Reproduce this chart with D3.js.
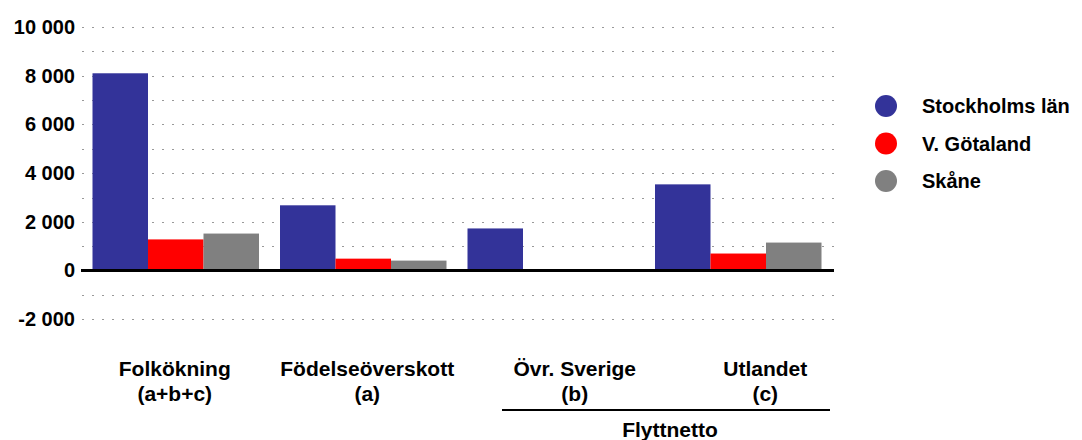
<!DOCTYPE html>
<html><head><meta charset="utf-8">
<script src="https://cdn.jsdelivr.net/npm/d3@7"></script>
<style>
body{margin:0;background:#fff;}
text{font-family:"Liberation Sans",Arial,sans-serif;font-weight:bold;fill:#000;}
</style></head>
<body><svg id="c" width="1082" height="440"></svg>
<script>
const categories = ["Folkökning","Födelseöverskott","Övr. Sverige","Utlandet"];
const categorySub = ["(a+b+c)","(a)","(b)","(c)"];
const seriesNames = ["Stockholms län","V. Götaland","Skåne"];
const seriesColors = ["#333399","#ff0000","#808080"];
const stockholm = [8100, 2680, 1730, 3540];
const vgotaland = [1280, 490, 0, 700];
const skane = [1520, 410, 0, 1150];
const tickValues = [-2000, 0, 2000, 4000, 6000, 8000, 10000];
const gridValues = [-2000,-1000,1000,2000,3000,4000,5000,6000,7000,8000,9000,10000];
const groupLabel = "Flyttnetto";

const series = [stockholm, vgotaland, skane];
const svg = d3.select("#c");
const y = d3.scaleLinear().domain([-2000, 10000]).range([319.3, 27]);
const x0 = d3.scaleBand().domain(categories).range([82, 832]).padding(0);
const x1 = d3.scaleBand().domain(seriesNames).range([10.5, x0.bandwidth() - 10.5]).padding(0);
// label placement offsets from group centres (layout)
const labelShift = [-1, 4, 24, 27];

// grid
svg.append("g").selectAll("line").data(gridValues).join("line")
  .attr("x1", 82).attr("x2", 834)
  .attr("y1", d => Math.round(y(d)) + 0.5).attr("y2", d => Math.round(y(d)) + 0.5)
  .attr("stroke", "#999").attr("stroke-width", 1).attr("stroke-dasharray", "2,8");

// bars
const g = svg.append("g");
categories.forEach((c, i) => {
  seriesNames.forEach((s, j) => {
    const v = series[j][i];
    g.append("rect")
      .attr("x", x0(c) + x1(s))
      .attr("width", x1.bandwidth())
      .attr("y", y(Math.max(0, v)))
      .attr("height", Math.abs(y(v) - y(0)))
      .attr("fill", seriesColors[j]);
  });
});

// zero line
svg.append("line").attr("x1", 81).attr("x2", 834)
  .attr("y1", y(0)).attr("y2", y(0)).attr("stroke", "#000").attr("stroke-width", 3);

// y axis labels
const yAxis = d3.axisLeft(y).tickValues(tickValues).tickSize(0).tickPadding(0)
  .tickFormat(d => d3.format(",")(d).replace(/,/g, " ").replace("−", "-"));
const ag = svg.append("g").attr("transform", "translate(75,0)").call(yAxis);
ag.select(".domain").remove();
ag.selectAll("text").attr("font-size", 20).attr("font-family", '"Liberation Sans",Arial,sans-serif').attr("font-weight", "bold").attr("fill", "#000");

// category labels
const cl = svg.append("g");
categories.forEach((c, i) => {
  const cx = x0(c) + x0.bandwidth() / 2 + labelShift[i];
  cl.append("text").attr("x", cx).attr("y", 376).attr("text-anchor", "middle").attr("font-size", 21).text(c);
  cl.append("text").attr("x", cx).attr("y", 401).attr("text-anchor", "middle").attr("font-size", 21).text(categorySub[i]);
});
const gx1 = x0(categories[2]) + 45, gx2 = x0(categories[3]) + x0.bandwidth() - 2;
svg.append("line").attr("x1", gx1).attr("x2", gx2).attr("y1", 410).attr("y2", 410)
  .attr("stroke", "#000").attr("stroke-width", 2);
svg.append("text").attr("x", (gx1 + gx2) / 2 + 4).attr("y", 437).attr("text-anchor", "middle").attr("font-size", 21).text(groupLabel);

// legend
const lg = svg.append("g");
seriesNames.forEach((s, j) => {
  const ly = 106 + j * 37.5;
  lg.append("circle").attr("cx", 886).attr("cy", ly).attr("r", 11).attr("fill", seriesColors[j]);
  lg.append("text").attr("x", 922).attr("y", ly).attr("dy", "0.35em").attr("font-size", 20).text(s);
});
</script></body></html>
